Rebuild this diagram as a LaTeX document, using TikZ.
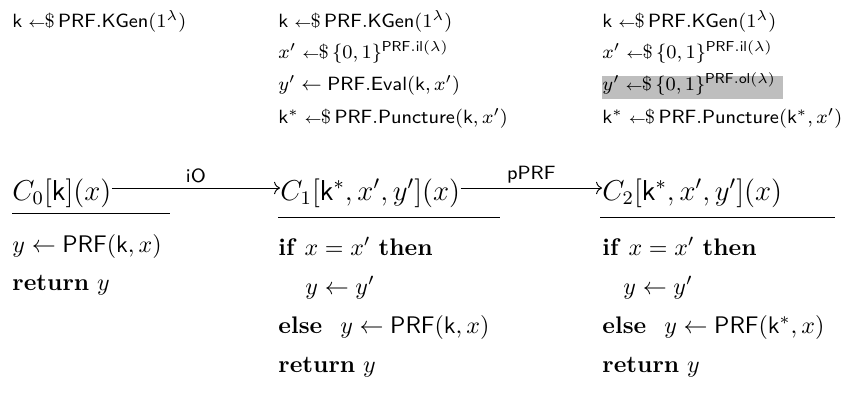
\documentclass[tikz,border=0pt]{standalone}
\usepackage{amsmath,amssymb}
\usetikzlibrary{arrows.meta,positioning}
\definecolor{Hl}{HTML}{BEBEBE}
\newcommand{\smp}{\mathrel{{\scriptstyle\leftarrow}\mkern-1mu\$\mkern-2mu}}
\newcommand{\prf}{\mathsf{PRF}}

\begin{document}
\begin{tikzpicture}[x=0.417pt,y=0.417pt,
  ln/.style={anchor=base west,inner sep=0pt,font=\fontsize{8.5}{10}\selectfont},
  cd/.style={anchor=base west,inner sep=0pt},
  hd/.style={anchor=base west,inner sep=0pt,font=\large},
  arr/.style={->},
  lab/.style={above,inner sep=2pt,font=\footnotesize\sffamily}]
  \useasboundingbox (0,0) rectangle (846,394);
  \fill[Hl] (602,295) rectangle (783,318);
  \node[ln] (ga) at (12,367) {$\mathsf{k}\smp\prf.\mathsf{KGen}(1^\lambda)$};
  \node[ln] (gb1) at (278,367) {$\mathsf{k}\smp\prf.\mathsf{KGen}(1^\lambda)$};
  \node[ln] (gb2) at (278,336) {$x'\smp\{0,1\}^{\prf.\mathsf{il}(\lambda)}$};
  \node[ln] (gb3) at (278,304) {$y'\gets\prf.\mathsf{Eval}(\mathsf{k},x')$};
  \node[ln] (gb4) at (278,271) {$\mathsf{k}^*\smp\prf.\mathsf{Puncture}(\mathsf{k},x')$};
  \node[ln] (gc1) at (602,367) {$\mathsf{k}\smp\prf.\mathsf{KGen}(1^\lambda)$};
  \node[ln] (gc2) at (602,336) {$x'\smp\{0,1\}^{\prf.\mathsf{il}(\lambda)}$};
  \node[ln] (gc3) at (602,304) {$y'\smp\{0,1\}^{\prf.\mathsf{ol}(\lambda)}$};
  \node[ln] (gc4) at (602,271) {$\mathsf{k}^*\smp\prf.\mathsf{Puncture}(\mathsf{k}^*,x')$};
  \node[hd] (c0) at (12,194) {$C_0[\mathsf{k}](x)$};
  \node[hd] (c1) at (280,194) {$C_1[\mathsf{k}^*,x',y'](x)$};
  \node[hd] (c2) at (602,194) {$C_2[\mathsf{k}^*,x',y'](x)$};
  \draw[arr] ([yshift=5pt]c0.base east) -- node[lab] (io) {iO} ([yshift=5pt]c1.base west);
  \draw[arr] ([yshift=5pt]c1.base east) -- node[lab] (pp) {pPRF} ([yshift=5pt]c2.base west);
  \draw (12,181) -- (170,181);
  \draw (278,177) -- (500,177);
  \draw (600,177) -- (835,177);
  \node[cd] (a1) at (12,142) {$y\gets\prf(\mathsf{k},x)$};
  \node[cd] (a2) at (12,104) {\textbf{return} $y$};
  \node[cd] (b1) at (278,139) {\textbf{if} $x=x'$ \textbf{then}};
  \node[cd] (b2) at (305,100) {$y\gets y'$};
  \node[cd] (b3) at (278,61) {\textbf{else}\hspace{7.5pt}$y\gets\prf(\mathsf{k},x)$};
  \node[cd] (b4) at (278,22) {\textbf{return} $y$};
  \node[cd] (d1) at (602,139) {\textbf{if} $x=x'$ \textbf{then}};
  \node[cd] (d2) at (623,100) {$y\gets y'$};
  \node[cd] (d3) at (602,61) {\textbf{else}\hspace{7.5pt}$y\gets\prf(\mathsf{k}^*,x)$};
  \node[cd] (d4) at (602,22) {\textbf{return} $y$};
\end{tikzpicture}
\end{document}
